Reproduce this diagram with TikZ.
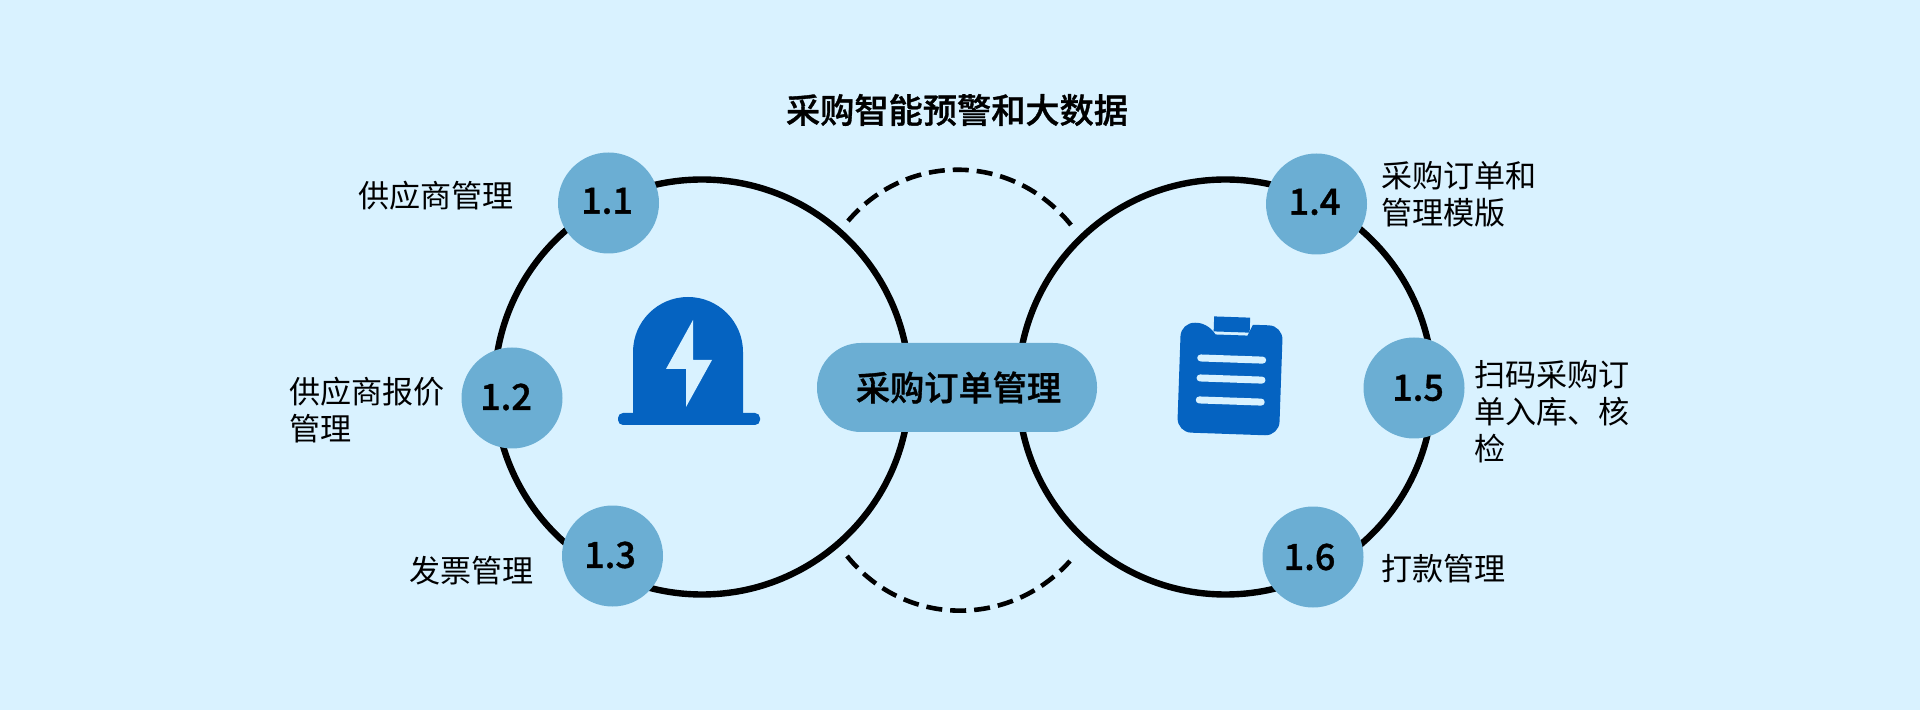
\documentclass[tikz,border=0pt]{standalone}
\usepackage{fontspec}
\setmainfont{Noto Sans CJK SC}
\newfontfamily\medio[FakeBold=1]{Noto Sans CJK SC Medium}
\usepackage{xcolor}
\definecolor{fundo}{HTML}{D9F2FF}
\definecolor{bolhacor}{HTML}{6BAED3}
\definecolor{iconecor}{HTML}{0563C1}

\begin{document}
\begin{tikzpicture}[x=0.5pt, y=-0.5pt]
        \tikzstyle{anel}=[draw=black, line width=3.2pt, circle, minimum size=207.5pt, inner sep=0pt]
        \tikzstyle{bolha}=[fill=bolhacor, circle, minimum size=50.5pt, inner sep=0pt]
        \tikzstyle{numero}=[inner sep=0pt, font=\fontsize{18}{20}\selectfont\medio]
        \tikzstyle{pilula}=[fill=bolhacor, rounded corners=22pt, minimum width=140pt, minimum height=44.5pt, inner sep=0pt, font=\fontsize{17.1}{20}\selectfont\medio]
        \tikzstyle{rotulo}=[anchor=west, align=left, inner sep=0pt, font=\fontsize{15.55}{18.5}\selectfont]
        \tikzstyle{tracejado}=[line width=2.3pt, dash pattern=on 8pt off 4pt]

        \useasboundingbox[fill=fundo] (0,0) rectangle (1920,710);

        \coordinate (A) at (702,387);
        \coordinate (B) at (1225.5,387);
        \coordinate (C) at (848,221);
        \coordinate (D) at (1071,225);
        \coordinate (E) at (847,556);
        \coordinate (F) at (1070,561);

        \node (anelA) at (A)[anel]{};
        \node (anelB) at (B)[anel]{};

        \draw[tracejado] (C) .. controls (907,152) and (1012,152) .. (D);
        \draw[tracejado] (E) .. controls (905,628) and (1010,628) .. (F);

        \node (n11) at (608.5,203)[bolha]{};
        \node (n12) at (512,398)[bolha]{};
        \node (n13) at (612.5,556)[bolha]{};
        \node (n14) at (1316.5,204)[bolha]{};
        \node (n15) at (1414,388)[bolha]{};
        \node (n16) at (1313,557)[bolha]{};

        \node (t11) at (607,201)[numero]{1.1};
        \node (t12) at (506,397)[numero]{1.2};
        \node (t13) at (610,555)[numero]{1.3};
        \node (t14) at (1314.5,202)[numero]{1.4};
        \node (t15) at (1418,388)[numero]{1.5};
        \node (t16) at (1309.5,557)[numero]{1.6};

        \node (centro) at (957,387.5)[pilula]{\hspace*{1.5pt}采购订单管理};
        \node (titulo) at (957,110)[font=\fontsize{17.1}{20}\selectfont\medio]{采购智能预警和大数据};

        \node (r11) at (358,196)[rotulo]{供应商管理};
        \node (r12) at (289,410)[rotulo]{供应商报价\\管理};
        \node (r13) at (409,571)[rotulo]{发票管理};
        \node (r14) at (1381,194)[rotulo]{采购订单和\\管理模版};
        \node (r15) at (1474,412)[rotulo]{扫码采购订\\单入库、核\\检};
        \node (r16) at (1381,569)[rotulo]{打款管理};

        \fill[iconecor, rounded corners=2.5pt] (618,413) rectangle (760,425);
        \fill[iconecor] (633,420) -- (633,352) arc[x radius=55, y radius=-55, start angle=180, end angle=0] -- (743,420) -- cycle;
        \fill[fundo] (693,320) -- (666,369) -- (686,369) -- (686,407) -- (712,360) -- (693,360) -- cycle;

        \begin{scope}[shift={(1230,379)}, rotate=-2]
          \fill[iconecor, sharp corners] (-16,-44) -- (16,-44) -- (21,-55) [rounded corners=7pt] -- (51,-55) -- (51,55) -- (-51,55) -- (-51,-55) -- (-21,-55) [sharp corners] -- cycle;
          \fill[iconecor] (-18,-62) rectangle (18,-47);
          \draw[fundo, line width=3.5pt, line cap=round] (-30,-20) -- (32,-20);
          \draw[fundo, line width=3.5pt, line cap=round] (-30,0) -- (32,0);
          \draw[fundo, line width=3.5pt, line cap=round] (-30,22) -- (32,22);
        \end{scope}
      \end{tikzpicture}
\end{document}
